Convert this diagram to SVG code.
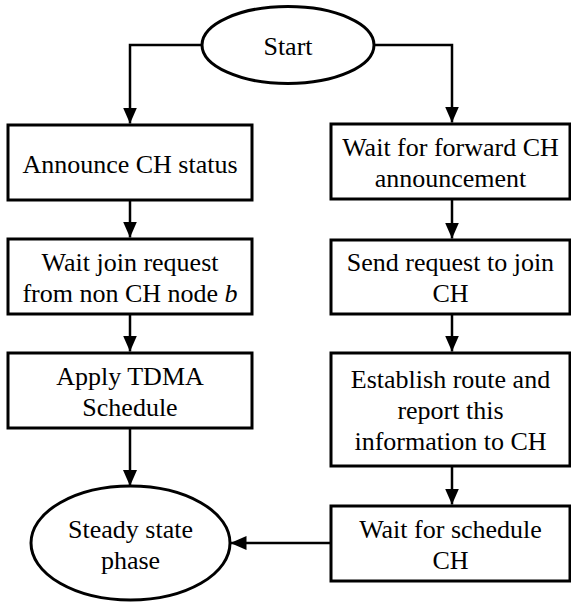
<svg xmlns="http://www.w3.org/2000/svg" width="571" height="603" viewBox="0 0 571 603">
<style>
.box{fill:#fff;stroke:#000;stroke-width:3}
.con{fill:none;stroke:#000;stroke-width:2.5}
</style>
<defs>
<marker id="arr" viewBox="0 0 16 14" refX="16" refY="7" markerWidth="16" markerHeight="14" markerUnits="userSpaceOnUse" orient="auto">
<path d="M0,0 L16,7 L0,14 z" fill="#000"/>
</marker>
</defs>
<rect width="571" height="603" fill="#fff"/>
<g id="connectors">
<path class="con" d="M202,45 H130 V123.5" marker-end="url(#arr)"/>
<path class="con" d="M374,45 H452 V122.5" marker-end="url(#arr)"/>
<path class="con" d="M130,200 V237.5" marker-end="url(#arr)"/>
<path class="con" d="M130,314 V351.5" marker-end="url(#arr)"/>
<path class="con" d="M130,428 V486" marker-end="url(#arr)"/>
<path class="con" d="M452,199 V238.5" marker-end="url(#arr)"/>
<path class="con" d="M452,314 V351.5" marker-end="url(#arr)"/>
<path class="con" d="M452,466 V504.5" marker-end="url(#arr)"/>
<path class="con" d="M331,543 H230.5" marker-end="url(#arr)"/>
</g>
<g font-family="Liberation Serif" font-size="26" text-anchor="middle" fill="#000">
<g id="start">
<ellipse class="box" cx="288" cy="45" rx="86" ry="38.5"/>
<text x="288" y="55">Start</text>
</g>
<g id="announce">
<rect class="box" x="8" y="125" width="244" height="75"/>
<text x="130" y="173">Announce CH status</text>
</g>
<g id="waitjoin">
<rect class="box" x="8" y="239" width="244" height="75"/>
<text x="130" y="271">Wait join request</text>
<text x="130" y="302">from non CH node <tspan font-style="italic">b</tspan></text>
</g>
<g id="tdma">
<rect class="box" x="8" y="353" width="244" height="75"/>
<text x="130" y="385">Apply TDMA</text>
<text x="130" y="416">Schedule</text>
</g>
<g id="steady">
<ellipse class="box" cx="130.5" cy="543" rx="99.5" ry="57"/>
<text x="130.5" y="538">Steady state</text>
<text x="130.5" y="569">phase</text>
</g>
<g id="waitforward">
<rect class="box" x="331" y="124" width="239" height="75"/>
<text x="450.5" y="156">Wait for forward CH</text>
<text x="450.5" y="187">announcement</text>
</g>
<g id="sendrequest">
<rect class="box" x="331" y="240" width="239" height="74"/>
<text x="450.5" y="271">Send request to join</text>
<text x="450.5" y="302">CH</text>
</g>
<g id="establish">
<rect class="box" x="331" y="353" width="239" height="113"/>
<text x="450.5" y="388">Establish route and</text>
<text x="450.5" y="419">report this</text>
<text x="450.5" y="450">information to CH</text>
</g>
<g id="waitschedule">
<rect class="box" x="331" y="506" width="239" height="75"/>
<text x="450.5" y="538">Wait for schedule</text>
<text x="450.5" y="569">CH</text>
</g>
</g>
</svg>
